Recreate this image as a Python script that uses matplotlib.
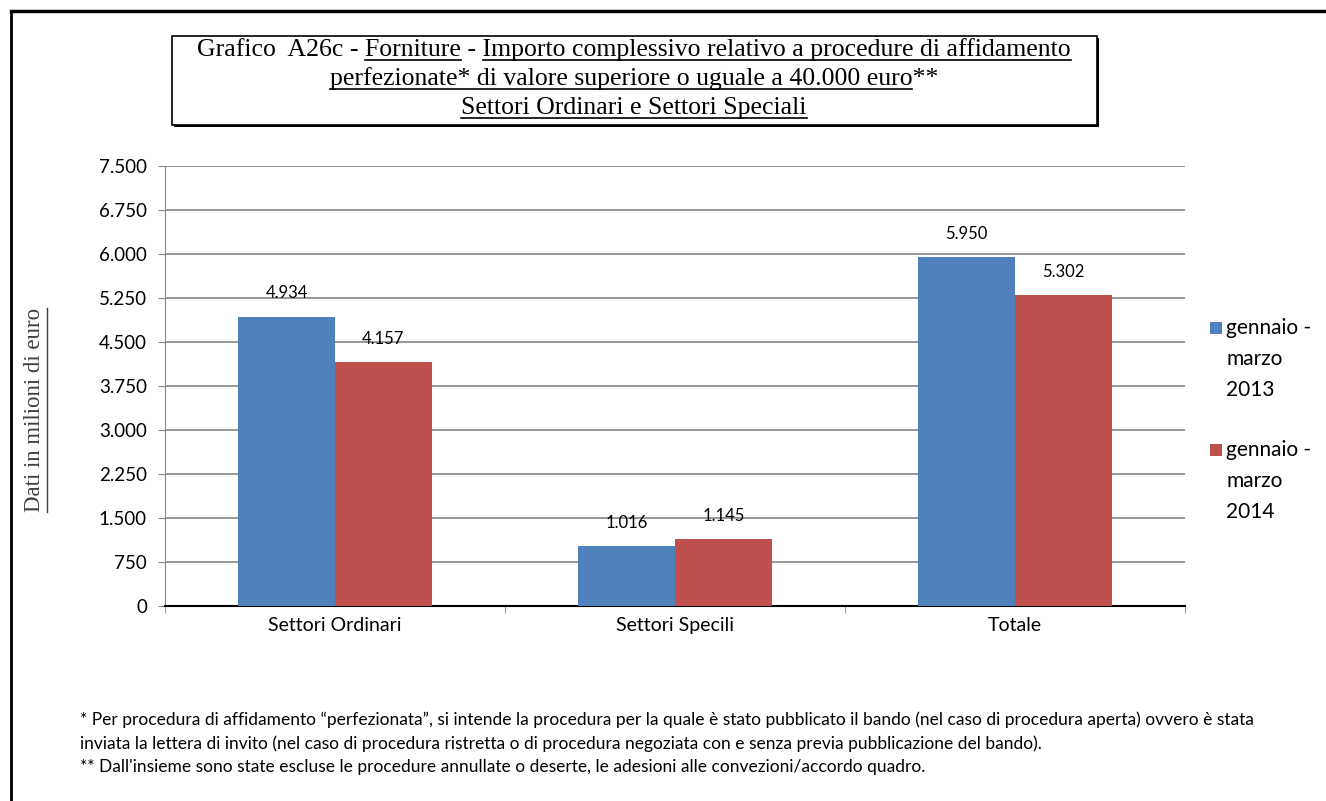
import matplotlib
matplotlib.use('Agg')
import numpy as np
import matplotlib.pyplot as plt
from matplotlib.lines import Line2D
from matplotlib.patches import Rectangle
from matplotlib.ticker import FuncFormatter

categories = ['Settori Ordinari', 'Settori Specili', 'Totale']
series_names = ['gennaio -\nmarzo\n2013', 'gennaio -\nmarzo\n2014']
vals_2013 = [4934, 1016, 5950]
vals_2014 = [4157, 1145, 5302]
colors = ['#4F81BD', '#C0504D']

title_lines = [
    [('Grafico  A26c - ', False), ('Forniture', True), (' - ', False),
     ('Importo complessivo relativo a procedure di affidamento', True)],
    [('perfezionate* di valore superiore o uguale a 40.000 euro', True), ('**', False)],
    [('Settori Ordinari e Settori Speciali', True)],
]
ylabel = 'Dati in milioni di euro'
notes = [
    '* Per procedura di affidamento \u201cperfezionata\u201d, si intende la procedura per la quale \u00e8 stato pubblicato il bando (nel caso di procedura aperta) ovvero \u00e8 stata',
    'inviata la lettera di invito (nel caso di procedura ristretta o di procedura negoziata con e senza previa pubblicazione del bando).',
    "** Dall'insieme sono state escluse le procedure annullate o deserte, le adesioni alle convezioni/accordo quadro.",
]

W, H = 1326, 801
fig = plt.figure(figsize=(W / 100, H / 100), dpi=100)
sans = ['Lato', 'DejaVu Sans']
serif = ['Liberation Serif', 'DejaVu Serif']

ax = fig.add_axes([165 / W, 1 - 606 / H, 1020 / W, 440 / H])
x = np.arange(len(categories))
bw = 0.285
b1 = ax.bar(x - bw / 2, vals_2013, bw, color=colors[0], zorder=3)
b2 = ax.bar(x + bw / 2, vals_2014, bw, color=colors[1], zorder=3)

fmt = lambda v: f'{int(v):,}'.replace(',', '.')
for bars, vals in ((b1, vals_2013), (b2, vals_2014)):
    for r, v in zip(bars, vals):
        ax.annotate(fmt(v), (r.get_x() + r.get_width() / 2, v), xytext=(0, 11),
                    textcoords='offset points', ha='center', va='bottom',
                    fontsize=12, family=sans)

ax.set_xlim(-0.5, 2.5)
ax.set_ylim(0, 7500)
ax.set_yticks(np.arange(0, 7501, 750))
ax.yaxis.set_major_formatter(FuncFormatter(lambda v, p: fmt(v)))
ax.set_xticks(x)
ax.set_xticklabels(categories, family=sans, fontsize=14)
ax.set_xticks([-0.5, 0.5, 1.5, 2.5], minor=True)
ax.tick_params(axis='x', which='major', length=0, pad=8)
ax.tick_params(axis='x', which='minor', length=5, color='#868686', direction='out')
ax.tick_params(axis='y', length=5, color='#868686', labelsize=13.5, pad=8)
for lab in ax.get_yticklabels():
    lab.set_family(sans)
ax.grid(axis='y', color='#868686', lw=1.2, zorder=0)
for s in ('top', 'right'):
    ax.spines[s].set_visible(False)
ax.spines['left'].set_color('#868686')
ax.spines['bottom'].set_color('black')
ax.spines['bottom'].set_linewidth(1.5)

# legend: square aligned with first line of a three-line label
for i, (name, c) in enumerate(zip(series_names, colors)):
    top = 318 + i * 122
    fig.add_artist(Rectangle((1210 / W, 1 - (top + 16) / H), 12 / W, 12 / H,
                             facecolor=c, edgecolor='none'))
    fig.text(1226 / W, 1 - top / H, name, ha='left', va='top', family=sans,
             fontsize=15, linespacing=1.7)

# page border
fig.add_artist(Line2D([11 / W, 1], [1 - 11 / H, 1 - 11 / H], color='black', lw=2.5))
fig.add_artist(Line2D([11 / W, 11 / W], [0, 1 - 11 / H], color='black', lw=2))

# title box
fig.add_artist(Rectangle((174 / W, 1 - 127 / H), 925 / W, 89 / H, facecolor='black',
                         edgecolor='none'))
fig.add_artist(Rectangle((172 / W, 1 - 125 / H), 925 / W, 89 / H, facecolor='white',
                         edgecolor='black', lw=1.2))

fig.canvas.draw()
renderer = fig.canvas.get_renderer()


def text_width(s, **kw):
    t = fig.text(0, 0, s, **kw)
    w = t.get_window_extent(renderer).width
    t.remove()
    return w


cx = 634
baselines = [56, 85, 114]
for segs, ly in zip(title_lines, baselines):
    kw = dict(family=serif, fontsize=18.5)
    full = ''.join(s for s, _ in segs)
    total = text_width(full, **kw)
    x0 = cx - total / 2
    fig.text(x0 / W, 1 - ly / H, full, ha='left', va='baseline', **kw)
    bar_w = text_width('|', **kw)
    pos = 0
    for s, ul in segs:
        start = x0 + (text_width(full[:pos] + '|', **kw) - bar_w if pos else 0)
        end = x0 + text_width(full[:pos + len(s)] + '|', **kw) - bar_w
        if ul:
            fig.add_artist(Line2D([start / W, end / W], [1 - (ly + 4) / H] * 2,
                                  color='black', lw=1.2))
        pos += len(s)

yl = fig.text(35 / W, 1 - 410 / H, ylabel, rotation=90, ha='center', va='center',
              family=serif, fontsize=16.5, color='#404040')
bb = yl.get_window_extent(renderer)
fig.add_artist(Line2D([(bb.x1 + 1) / W] * 2, [bb.y0 / H, bb.y1 / H], color='#404040', lw=1))

for i, n in enumerate(notes):
    fig.text(80 / W, 1 - (720 + i * 23.5) / H, n, ha='left', va='center',
             family=sans, fontsize=12.5)

fig.savefig('out.png', dpi=100)
